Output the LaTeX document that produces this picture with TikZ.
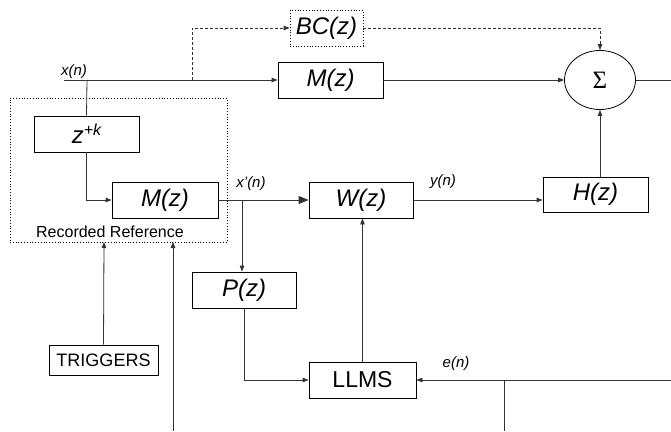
\documentclass[tikz,border=0pt]{standalone}
\usepackage{fontspec}
\setmainfont{Liberation Sans}
\newfontfamily\symfont{Liberation Serif}
\usetikzlibrary{arrows.meta,shapes.geometric}
\begin{document}
\begin{tikzpicture}[x=1pt,y=-1pt,
  ln/.style={line width=0.8pt, draw=black!80},
  arr/.style={ln, -{Triangle[length=6pt,width=4.5pt]}},
  bigarr/.style={ln, -{Triangle[length=10pt,width=8pt]}},
  blk/.style={draw, line width=0.8pt, minimum width=105pt, minimum height=36pt, inner sep=0pt, font=\fontsize{24}{26}\selectfont\itshape},
  lbl/.style={inner sep=0pt, font=\fontsize{15}{17}\selectfont\itshape},
  dots/.style={draw, dotted, line width=0.8pt}]
\useasboundingbox (0,0) rectangle (671,431);
% blocks
\node[blk, dots, minimum width=73pt] (bc) at (326.5,28) {BC(z)};
\node[blk] (mtop) at (330.5,80) {M(z)};
\node[draw, line width=0.8pt, ellipse, minimum width=71pt, minimum height=59pt, inner sep=0pt, font=\symfont\fontsize{25}{27}\selectfont] (sig) at (600,80) {Σ};
\node[blk] (zk) at (86.5,134) {z\raisebox{8pt}{\fontsize{16}{17}\selectfont +k}};
\node[blk, minimum width=106pt] (mlow) at (165,200) {M(z)};
\node[blk, minimum width=104pt] (w) at (361,200) {W(z)};
\node[blk, minimum width=104pt] (p) at (244,290) {P(z)};
\node[blk, minimum width=107pt, font=\fontsize{23}{25}\selectfont] (llms) at (362.5,380) {LLMS};
\node[blk, minimum height=35pt] (h) at (595.5,194.5) {H(z)};
\node[blk, minimum width=109pt, minimum height=30pt, font=\fontsize{18}{20}\selectfont] (trig) at (103.5,360) {TRIGGERS};
% recorded reference box
\node[dots, minimum width=217pt, minimum height=144pt, inner sep=0pt] (rec) at (118.5,170) {};
\node[inner sep=0pt, font=\fontsize{16}{18}\selectfont] (reclbl) at (110,232) {Recorded Reference};
% coordinates
\coordinate (xs) at (64,80);
\coordinate (jz) at (87,80);
\coordinate (jbc) at (192,80);
\coordinate (jx) at (242,200);
\coordinate (outr) at (671,80);
\coordinate (er) at (671,380);
\coordinate (ej) at (504,380);
\coordinate (eb) at (504,431);
\coordinate (tb) at (173,431);
\coordinate (tt) at (173,242);
\coordinate (trt) at (104,242);
% labels
\node[lbl] (lx) at (74,72) {x(n)};
\node[lbl] (lxp) at (251,184) {x'(n)};
\node[lbl] (ly) at (443,182) {y(n)};
\node[lbl] (le) at (456,364) {e(n)};
% connectors
\draw[arr] (xs) -- (mtop.west);
\draw[ln] (jz) -- (zk.north);
\draw[arr, dashed, dash pattern=on 3pt off 2pt] (jbc) |- (bc.west);
\draw[arr, dashed, dash pattern=on 3pt off 2pt] (bc.east) -| (sig.north);
\draw[arr] (mtop.east) -- (sig.west);
\draw[ln] (sig.east) -- (outr);
\draw[arr] (zk.south) |- (mlow.west);
\draw[bigarr] (mlow.east) -- (w.west);
\draw[arr] (jx) -- (jx |- p.north);
\draw[arr] (p.south) |- (llms.west);
\draw[arr] (llms.north) -- (llms.north |- w.south);
\draw[arr] (w.east) -- (w.east -| h.west);
\draw[arr] (sig.south |- h.north) -- (sig.south);
\draw[arr] (er) -- (llms.east);
\draw[ln] (ej) -- (eb);
\draw[arr] (trig.north) -- (trt);
\draw[arr] (tb) -- (tt);
\end{tikzpicture}
\end{document}
